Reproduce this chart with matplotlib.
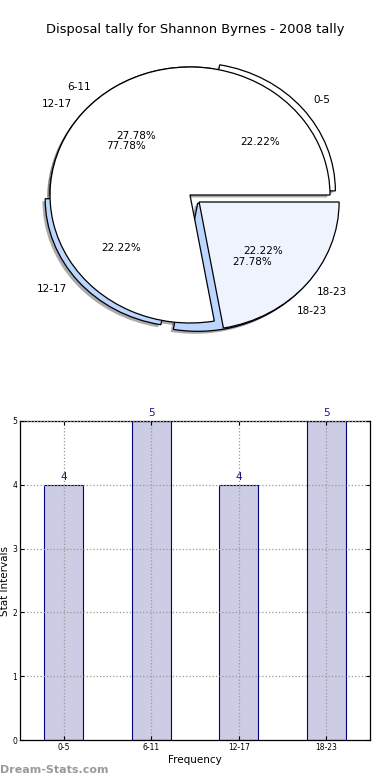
import matplotlib
matplotlib.use("Agg")
import matplotlib.pyplot as plt

# Bar chart data: disposals per time interval
intervals = ["0-5", "6-11", "12-17", "18-23"]
disposals = [4, 5, 4, 5]

# Second (overdrawn) pie left on the same axes
split_labels = ["12-17", "18-23"]
split_values = [14, 4]

BAR_FILL = "#ccccE4"
BAR_EDGE = "#00007a"
LABEL_COLOUR = "#1a1a8a"

fig = plt.figure(figsize=(3.9, 7.8), dpi=100)

# ── Pie ───────────────────────────────────────────────────────────────────────
ax_pie = fig.add_axes([15 / 390, 425 / 780, 350 / 390, 320 / 780])
shadow = {"ox": -0.014, "oy": -0.014, "facecolor": "0.4",
          "edgecolor": "none", "alpha": 0.55}
wedge_kw = {"edgecolor": "black", "linewidth": 0.9}
text_kw = {"fontsize": 7.5}

ax_pie.pie(disposals, labels=intervals, autopct="%.2f%%",
           explode=[0.05, 0, 0.045, 0.085],
           colors=["white", "white", "#bcd6ff", "#bcd6ff"],
           shadow=shadow, wedgeprops=wedge_kw, textprops=text_kw)
ax_pie.pie(split_values, labels=split_labels, autopct="%.2f%%",
           explode=[0, 0.085], colors=["white", "#eef3fd"],
           shadow=shadow, wedgeprops=wedge_kw, textprops=text_kw)
ax_pie.set_aspect("auto")
ax_pie.set_xlim(-1.25, 1.25)
ax_pie.set_ylim(-1.25, 1.25)

fig.text(0.5, 1 - 30 / 780, "Disposal tally for Shannon Byrnes - 2008 tally",
         ha="center", va="center", fontsize=9.4)

# ── Bars ──────────────────────────────────────────────────────────────────────
ax = fig.add_axes([20 / 390, 40 / 780, 350 / 390, 319 / 780])
xs = range(len(intervals))
bars = ax.bar(xs, disposals, width=0.45, color=BAR_FILL, edgecolor=BAR_EDGE,
              linewidth=0.8, zorder=2)
for rect, val in zip(bars, disposals):
    ax.text(rect.get_x() + rect.get_width() / 2, val + 0.05, str(val),
            ha="center", va="bottom", fontsize=7.5, color=LABEL_COLOUR)

ax.set_xlim(-0.5, len(intervals) - 0.5)
ax.set_ylim(0, 5)
ax.set_xticks(list(xs))
ax.set_xticklabels(intervals)
ax.set_yticks(range(6))
ax.tick_params(axis="both", labelsize=5.5, direction="in", length=3,
               top=True, right=True, pad=2)
ax.grid(True, linestyle=":", color="0.6", linewidth=0.9, zorder=3)
ax.set_axisbelow(False)
for spine in ax.spines.values():
    spine.set_linewidth(0.9)
ax.set_xlabel("Frequency", fontsize=7.5, labelpad=2)
ax.set_ylabel("Stat Intervals", fontsize=7.5, labelpad=2)

fig.text(0.0, 1 - 770 / 780, "Dream-Stats.com", ha="left", va="center",
         fontsize=8, fontweight="bold", color="#9a9a9a")

fig.savefig("out.png", dpi=100)
